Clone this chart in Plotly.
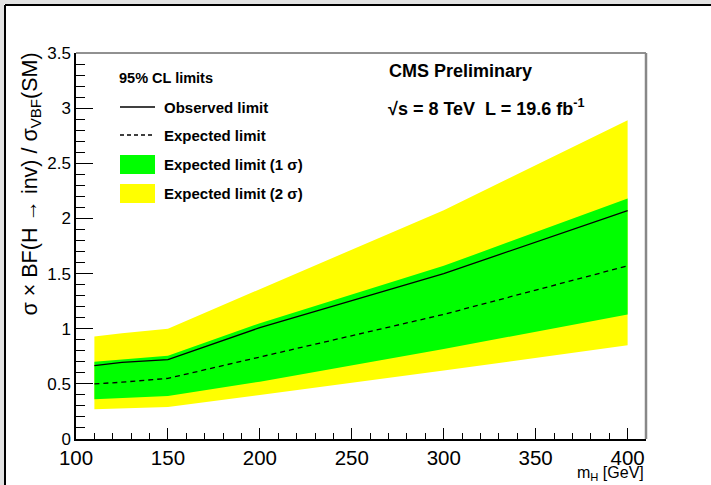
import plotly.graph_objects as go

# ---- data ----
mass = [110, 125, 150, 200, 300, 400]
observed = [0.665, 0.695, 0.72, 1.01, 1.50, 2.07]
expected = [0.50, 0.515, 0.55, 0.745, 1.13, 1.57]
one_sigma_up = [0.70, 0.72, 0.755, 1.05, 1.57, 2.18]
one_sigma_down = [0.36, 0.37, 0.39, 0.52, 0.815, 1.13]
two_sigma_up = [0.93, 0.96, 1.00, 1.36, 2.075, 2.89]
two_sigma_down = [0.27, 0.28, 0.29, 0.40, 0.62, 0.85]

x_ticks = [100, 150, 200, 250, 300, 350, 400]
y_ticks = [0, 0.5, 1, 1.5, 2, 2.5, 3, 3.5]

legend_header = "95% CL limits"
legend_labels = ["Observed limit", "Expected limit",
                 "Expected limit (1 σ)", "Expected limit (2 σ)"]

YELLOW = "#FFFF00"
GREEN = "#00FF00"
FONT = "Liberation Sans, Arial, Helvetica, sans-serif"

W, H = 711, 485
L, R, T, B = 76, 646, 53, 439  # plot area in pixels


def px(x):
    return (x - L) / (R - L)


def py(y):
    return (B - y) / (B - T)


fig = go.Figure()

# 2 sigma band
fig.add_trace(go.Scatter(x=mass, y=two_sigma_down, mode="lines",
                         line=dict(width=0, color=YELLOW), hoverinfo="skip",
                         showlegend=False))
fig.add_trace(go.Scatter(x=mass, y=two_sigma_up, mode="lines", fill="tonexty",
                         fillcolor=YELLOW, line=dict(width=0, color=YELLOW),
                         showlegend=False))
# 1 sigma band
fig.add_trace(go.Scatter(x=mass, y=one_sigma_down, mode="lines",
                         line=dict(width=0, color=GREEN), hoverinfo="skip",
                         showlegend=False))
fig.add_trace(go.Scatter(x=mass, y=one_sigma_up, mode="lines", fill="tonexty",
                         fillcolor=GREEN, line=dict(width=0, color=GREEN),
                         showlegend=False))
# expected & observed
fig.add_trace(go.Scatter(x=mass, y=expected, mode="lines",
                         line=dict(color="black", width=1.3, dash="5px,4px"),
                         showlegend=False))
fig.add_trace(go.Scatter(x=mass, y=observed, mode="lines",
                         line=dict(color="black", width=1.3),
                         showlegend=False))

shapes = []
# page border (gray strips + black lines)
shapes.append(dict(type="rect", xref="paper", yref="paper",
                   x0=px(-2), x1=px(4), y0=py(H + 2), y1=py(-2),
                   fillcolor="#e2e2e2", line=dict(width=0), layer="above"))
shapes.append(dict(type="rect", xref="paper", yref="paper",
                   x0=px(-2), x1=px(W + 2), y0=py(4), y1=py(-2),
                   fillcolor="#e2e2e2", line=dict(width=0), layer="above"))
shapes.append(dict(type="line", xref="paper", yref="paper",
                   x0=px(5), x1=px(5), y0=py(5), y1=py(H + 2),
                   line=dict(color="black", width=2), layer="above"))
shapes.append(dict(type="line", xref="paper", yref="paper",
                   x0=px(5), x1=px(W + 2), y0=py(5), y1=py(5),
                   line=dict(color="black", width=2), layer="above"))
# frame top and right
shapes.append(dict(type="line", xref="paper", yref="paper",
                   x0=0, x1=1, y0=1, y1=1,
                   line=dict(color="#222222", width=1), layer="above"))
shapes.append(dict(type="line", xref="paper", yref="paper",
                   x0=1, x1=1, y0=0, y1=1,
                   line=dict(color="#888888", width=2.5), layer="above"))

# legend symbols
sx0, sx1 = px(120), px(155)
row_y = [107, 135, 164.5, 193.5]
shapes.append(dict(type="line", xref="paper", yref="paper",
                   x0=sx0, x1=sx1, y0=py(row_y[0]), y1=py(row_y[0]),
                   line=dict(color="black", width=1.3)))
shapes.append(dict(type="line", xref="paper", yref="paper",
                   x0=sx0, x1=sx1, y0=py(row_y[1]), y1=py(row_y[1]),
                   line=dict(color="black", width=1.3, dash="4px,3px")))
shapes.append(dict(type="rect", xref="paper", yref="paper",
                   x0=sx0, x1=sx1, y0=py(row_y[2] + 9.5), y1=py(row_y[2] - 9.5),
                   fillcolor=GREEN, line=dict(width=0)))
shapes.append(dict(type="rect", xref="paper", yref="paper",
                   x0=sx0, x1=sx1, y0=py(row_y[3] + 9.5), y1=py(row_y[3] - 9.5),
                   fillcolor=YELLOW, line=dict(width=0)))

annotations = []
annotations.append(dict(text="<b>" + legend_header + "</b>", xref="paper", yref="paper",
                        x=px(117), y=py(78), xanchor="left", yanchor="middle",
                        showarrow=False, font=dict(family=FONT, size=14.5, color="black")))
for lab, yy in zip(legend_labels, row_y):
    annotations.append(dict(text="<b>" + lab + "</b>", xref="paper", yref="paper",
                            x=px(162), y=py(yy), xanchor="left", yanchor="middle",
                            showarrow=False,
                            font=dict(family=FONT, size=15, color="black")))

annotations.append(dict(text="<b>CMS Preliminary</b>", xref="paper", yref="paper",
                        x=px(387), y=py(71), xanchor="left", yanchor="middle",
                        showarrow=False, font=dict(family=FONT, size=18, color="black")))
annotations.append(dict(text="<b>√s = 8 TeV  L = 19.6 fb<sup>-1</sup></b>",
                        xref="paper", yref="paper",
                        x=px(386), y=py(108), xanchor="left", yanchor="middle",
                        showarrow=False, font=dict(family=FONT, size=18, color="black")))
# axis titles
annotations.append(dict(text="σ × BF(H → inv) / σ<sub>VBF</sub>(SM)",
                        xref="paper", yref="paper", textangle=-90,
                        x=px(31), y=py(51), xanchor="center", yanchor="top",
                        showarrow=False, font=dict(family=FONT, size=21.5, color="black")))
annotations.append(dict(text="m<sub>H</sub> [GeV]", xref="paper", yref="paper",
                        x=1, y=py(473), xanchor="right", yanchor="middle",
                        showarrow=False, font=dict(family=FONT, size=16, color="black")))

fig.update_layout(
    width=W, height=H,
    margin=dict(l=L, r=W - R, t=T, b=H - B, pad=0),
    paper_bgcolor="white", plot_bgcolor="white",
    showlegend=False,
    shapes=shapes, annotations=annotations,
    font=dict(family=FONT, color="black"),
    xaxis=dict(range=[100, 410], tickvals=x_ticks, ticks="inside", ticklen=11,
               tickwidth=1.2, tickcolor="black", showgrid=False, zeroline=False,
               showline=True, linecolor="black", linewidth=1.5,
               tickfont=dict(family=FONT, size=20.5, color="black"),
               minor=dict(dtick=10, tick0=100, ticks="inside", ticklen=6,
                          tickwidth=1, tickcolor="black", showgrid=False)),
    yaxis=dict(range=[0, 3.5], tickvals=y_ticks, ticks="inside", ticklen=17,
               tickwidth=1.2, tickcolor="black", showgrid=False, zeroline=False,
               showline=True, linecolor="black", linewidth=1.5,
               tickfont=dict(family=FONT, size=17, color="black"),
               minor=dict(dtick=0.1, tick0=0, ticks="inside", ticklen=9,
                          tickwidth=1, tickcolor="black", showgrid=False)),
)

fig.write_html("out.html")
